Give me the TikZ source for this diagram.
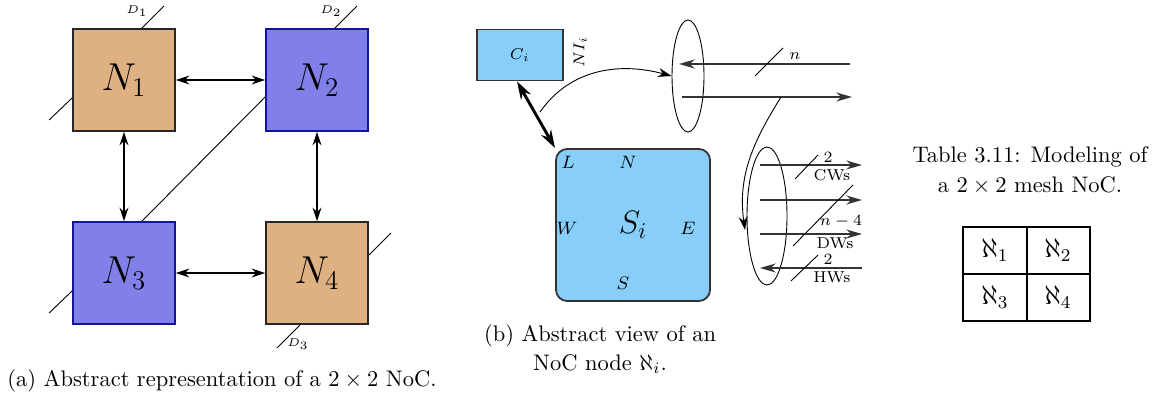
\documentclass[tikz,border=0pt]{standalone}
\usepackage{amsmath, amssymb}
\usepackage{tikz}
\usetikzlibrary{arrows.meta, positioning, calc, shapes.geometric}
\usepackage{xcolor}
\definecolor{nodetan}{RGB}{222,177,130}
\definecolor{nodeblue}{RGB}{128,128,232}
\definecolor{nodeblueline}{RGB}{20,20,150}
\definecolor{skybox}{RGB}{135,206,250}

\tikzset{
  tanbox/.style={draw=black!85, thick, fill=nodetan, minimum width=1.594cm, minimum height=1.594cm, inner sep=0pt, font=\LARGE},
  bluebox/.style={draw=nodeblueline, thick, fill=nodeblue, minimum width=1.594cm, minimum height=1.594cm, inner sep=0pt, font=\LARGE},
  link/.style={{Stealth[length=6pt,width=4pt]}-{Stealth[length=6pt,width=4pt]}, semithick},
  wire/.style={-{Stealth[length=7pt,width=4pt]}, semithick, black!80},
  bundle/.style={draw, ellipse, inner sep=0pt},
}

\begin{document}
\begin{tikzpicture}[x=0.01563cm, y=-0.01563cm]
      \useasboundingbox (0,0) rectangle (1157,400);

      % (a) 2x2 NoC
      \node[tanbox]  (N1) at (124,80)  {$N_1$};
      \node[bluebox] (N2) at (317,80)  {$N_2$};
      \node[bluebox] (N3) at (124,273) {$N_3$};
      \node[tanbox]  (N4) at (317,273) {$N_4$};

      \draw[link] (N1) -- (N2);
      \draw[link] (N3) -- (N4);
      \draw[link] (N1) -- (N3);
      \draw[link] (N2) -- (N4);
      \draw ($(N2.west)+(0,17)$) -- ($(N3.north)+(18,0)$);

      % links to the outside
      \draw ($(N1.north)+(18,0)$) -- ++(22,-22);
      \node[font=\tiny] (d1) at (137,11) {$D_1$};
      \draw ($(N2.north)+(18,0)$) -- ++(22,-22);
      \node[font=\tiny] (d2) at (331,11) {$D_2$};
      \draw ($(N1.west)+(0,18)$) -- ++(-23,22);
      \draw ($(N3.west)+(0,18)$) -- ++(-23,22);
      \draw ($(N4.east)+(0,-18)$) -- ++(22,-22);
      \draw ($(N4.south)+(-17,0)$) -- ++(-23,23);
      \node[font=\tiny] (d3) at (298,344) {$D_3$};

      \node (capa) at (222,381) {(a) Abstract representation of a $2\times2$ NoC.};

      % (b) node view
      \node[draw=black!80, thick, fill=skybox, minimum width=1.344cm, minimum height=0.797cm, font=\scriptsize] (Ci) at (520,55) {$C_i$};
      \node[rotate=90, font=\scriptsize] (NIi) at (580,52) {$NI_i$};
      \node[draw=black!80, thick, fill=skybox, rounded corners=5pt, minimum width=2.407cm, minimum height=2.376cm, font=\Large] (Si) at (633,225) {$S_i$};
      \node[font=\footnotesize] (pL) at (568,162) {$L$};
      \node[font=\footnotesize] (pN) at (628,162) {$N$};
      \node[font=\footnotesize] (pW) at (567,228) {$W$};
      \node[font=\footnotesize] (pE) at (688,228) {$E$};
      \node[font=\footnotesize] (pS) at (623,283) {$S$};
      \draw[{Stealth[length=8pt,width=5pt]}-{Stealth[length=8pt,width=5pt]}, line width=1.3pt] ($(Ci.south)+(-3,0)$) -- (Si.north west);

      % bundle at the interface
      \node[bundle, minimum width=0.50cm, minimum height=1.75cm] (ell1) at (688,76) {};
      \coordinate (inR) at (850,64);
      \coordinate (outR) at (852,97);
      \draw[wire] (inR) -- (679,64);
      \draw[wire] (682,97) -- (outR);
      \draw (755,76) -- (783,48);
      \node[font=\scriptsize] (nlab) at (795,56) {$n$};
      \coordinate (tap) at (540,112);
      \draw[-{Stealth[length=6pt,width=4pt]}] (tap) to[out=55,in=165] (ell1.west);

      % bundle split into the wires
      \node[bundle, minimum width=0.625cm, minimum height=2.157cm] (ell2) at (767,216) {};
      \coordinate (split) at (781,97);
      \draw[-{Stealth[length=6pt,width=4pt]}] (split) to[out=238,in=98] (745,230);
      \draw[wire] (760,165) -- (862,165);
      \draw[wire] (760,200) -- (862,200);
      \draw[wire] (760,234) -- (862,234);
      \draw[wire] (862,268) -- (760,268);
      \draw (795,179) -- (818,155);
      \draw (793,246) -- (853,185);
      \draw (791,281) -- (818,255);
      \node[font=\scriptsize] (cw2) at (828,157) {2};
      \node[font=\scriptsize] (cw) at (832,175) {CWs};
      \node[font=\scriptsize] (dwn) at (841,221) {$n-4$};
      \node[font=\scriptsize] (dw) at (835,243) {DWs};
      \node[font=\scriptsize] (hw2) at (828,259) {2};
      \node[font=\scriptsize] (hw) at (832,277) {HWs};

      \node (capb1) at (600,336) {(b) Abstract view of an};
      \node (capb2) at (600,364) {NoC node $\aleph_i$.};

      % table
      \node (capt1) at (1030,157) {Table 3.11: Modeling of};
      \node (capt2) at (1030,186) {a $2\times2$ mesh NoC.};
      \draw[semithick] (963,227) rectangle (1090,321);
      \draw[semithick] (1027,227) -- (1027,321);
      \draw[semithick] (963,274) -- (1090,274);
      \foreach \k/\cx/\cy in {1/995/250, 2/1058/250, 3/995/297, 4/1058/297}
        \node[font=\large] (al\k) at (\cx,\cy) {$\aleph_\k$};
\end{tikzpicture}
\end{document}
